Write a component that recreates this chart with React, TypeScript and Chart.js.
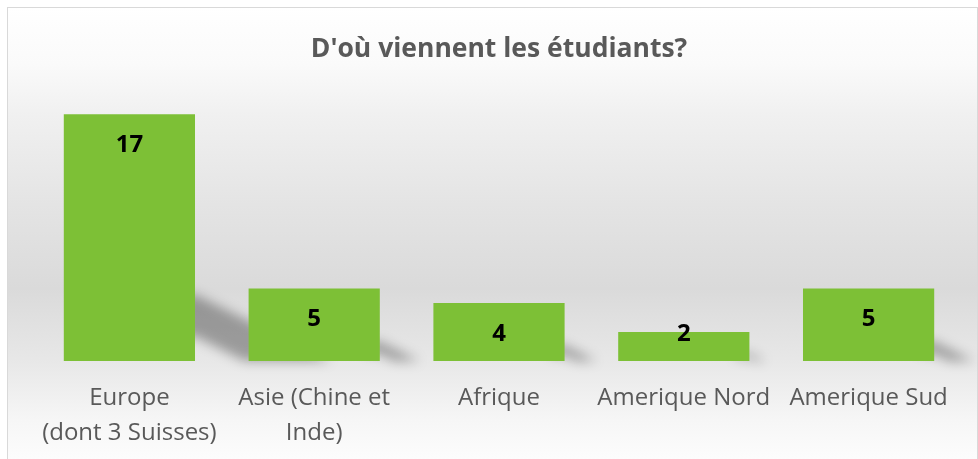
import React, { useEffect, useRef } from "react";
import { Chart, registerables } from "chart.js";

Chart.register(...registerables);

const TITLE = "D'où viennent les étudiants?";
const categories: string[][] = [
  ["Europe", "(dont 3 Suisses)"],
  ["Asie (Chine et", "Inde)"],
  ["Afrique"],
  ["Amerique Nord"],
  ["Amerique Sud"],
];
const values: number[] = [17, 5, 4, 2, 5];
const Y_MAX = 18;

const BAR_COLOR = "#7dc036";
const TEXT_GRAY = "#595959";
const FONT = "'Open Sans', 'Noto Sans', sans-serif";

const shadowPlugin = {
  id: "barShadow",
  beforeDatasetsDraw(chart: any) {
    const ctx = chart.ctx;
    const meta = chart.getDatasetMeta(0);
    ctx.save();
    ctx.filter = "blur(6px)";
    ctx.fillStyle = "rgba(0,0,0,0.32)";
    meta.data.forEach((el: any) => {
      const p = el.getProps(["x", "y", "base", "width"], true);
      const right = p.x + p.width / 2;
      const h = p.base - p.y;
      ctx.beginPath();
      ctx.moveTo(right - 14, p.base - 0.27 * h);
      ctx.lineTo(right, p.base - 0.27 * h);
      ctx.lineTo(right + 0.55 * h, p.base);
      ctx.lineTo(right + 0.2 * h, p.base);
      ctx.lineTo(right, p.base - 0.1 * h);
      ctx.lineTo(right - 14, p.base - 0.1 * h);
      ctx.closePath();
      ctx.fill();
    });
    ctx.restore();
  },
};

const labelPlugin = {
  id: "valueLabels",
  afterDatasetsDraw(chart: any) {
    const ctx = chart.ctx;
    const meta = chart.getDatasetMeta(0);
    const ds = chart.data.datasets[0];
    ctx.save();
    ctx.font = `bold 24px ${FONT}`;
    ctx.fillStyle = "#000000";
    ctx.textAlign = "center";
    ctx.textBaseline = "middle";
    meta.data.forEach((el: any, i: number) => {
      const p = el.getProps(["x", "y", "base"], true);
      const cy = Math.min(p.y + 31, p.base - 27);
      ctx.fillText(String(ds.data[i]), p.x, cy);
    });
    ctx.restore();
  },
};

export default function App() {
  const canvasRef = useRef<HTMLCanvasElement | null>(null);

  useEffect(() => {
    if (!canvasRef.current) return;
    const chart = new Chart(canvasRef.current, {
      type: "bar",
      data: {
        labels: categories,
        datasets: [
          {
            data: values,
            backgroundColor: BAR_COLOR,
            borderWidth: 0,
            categoryPercentage: 1,
            barPercentage: 0.71,
          },
        ],
      },
      options: {
        animation: false,
        responsive: false,
        maintainAspectRatio: false,
        layout: { padding: { left: 37, right: 17, top: 0, bottom: 0 } },
        plugins: {
          legend: { display: false },
          tooltip: { enabled: false },
          title: {
            display: true,
            text: TITLE,
            color: TEXT_GRAY,
            font: { family: FONT, size: 26.5, weight: "bold", lineHeight: 1.2 },
            padding: { top: 34, bottom: 34 },
          },
        },
        scales: {
          x: {
            grid: { display: false, drawTicks: false },
            border: { display: false },
            afterFit(scale: any) {
              scale.height = 98;
            },
            ticks: {
              color: TEXT_GRAY,
              font: { family: FONT, size: 24, lineHeight: 1.48 },
              padding: 19,
              autoSkip: false,
              maxRotation: 0,
              minRotation: 0,
            },
          },
          y: {
            display: false,
            min: 0,
            max: Y_MAX,
          },
        },
      },
      plugins: [shadowPlugin, labelPlugin],
    });
    return () => chart.destroy();
  }, []);

  return (
    <div
      style={{
        position: "fixed",
        left: 0,
        top: 0,
        width: 978,
        height: 459,
        overflow: "hidden",
        background: "#ffffff",
      }}
    >
      <div
        style={{
          position: "absolute",
          left: 7,
          top: 7,
          width: 971,
          height: 470,
          boxSizing: "border-box",
          border: "1px solid #d9d9d9",
          background:
            "linear-gradient(to bottom, #ffffff 0%, #fafafa 12%, #f0f0f0 23%, #e4e4e4 42%, #dadada 60%, #e8e8e8 76%, #f6f6f6 88%, #ffffff 100%)",
        }}
      />
      <canvas
        ref={canvasRef}
        width={978}
        height={459}
        style={{ position: "absolute", left: 0, top: 0, width: 978, height: 459 }}
      />
    </div>
  );
}
